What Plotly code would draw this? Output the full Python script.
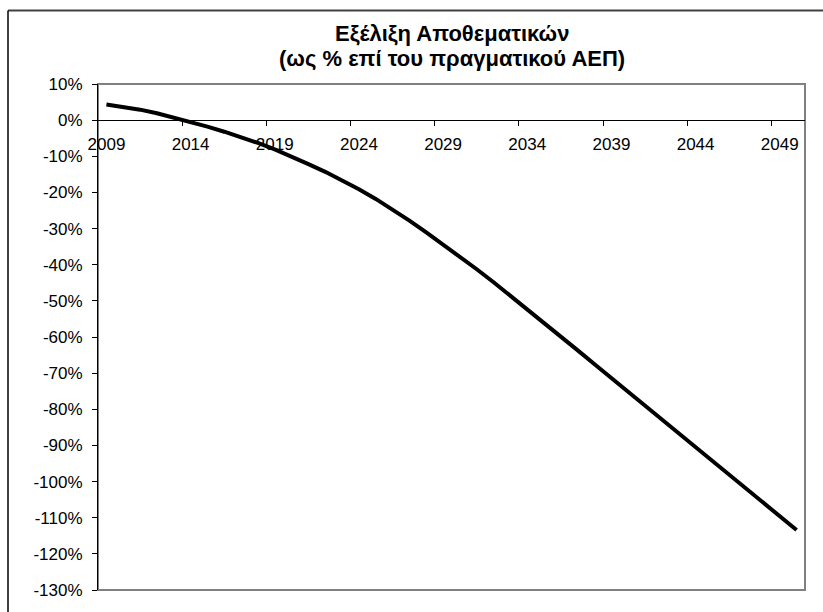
import plotly.graph_objects as go

years = list(range(2009, 2051))
reserves_pct = [
    4.3, 3.65, 2.9, 1.9, 0.75, -0.5, -1.8, -3.2, -4.7, -6.3,
    -8.1, -10.05, -12.15, -14.3, -16.6, -19.1, -21.8, -24.7, -27.8, -31.05,
    -34.35, -37.75, -41.25, -44.85, -48.55, -52.3, -56.1, -59.9, -63.7, -67.55,
    -71.4, -75.2, -79.0, -82.8, -86.65, -90.5, -94.3, -98.1, -101.95, -105.75,
    -109.6, -113.4,
]
x_tick_labels = [str(y) for y in range(2009, 2050, 5)]
x_tick_vals = list(range(2009, 2050, 5))
x_minor_vals = [y - 0.5 for y in range(2014, 2050, 5)]
y_tick_vals = list(range(-130, 11, 10))
y_tick_text = [f"{v}%" for v in y_tick_vals]

title_line1 = "Εξέλιξη Αποθεματικών"
title_line2 = "(ως % επί του πραγματικού ΑΕΠ)"

FONT = "Arial, Liberation Sans, sans-serif"
W, H = 823, 612
L, R, T, B = 98, 18, 84, 19
pw, ph = W - L - R, H - T - B

def px_x(p):
    return (p - L) / pw

def px_y(p):
    return (H - B - p) / ph

fig = go.Figure()
fig.add_trace(go.Scatter(
    x=years, y=reserves_pct, mode="lines",
    line=dict(color="black", width=4),
    showlegend=False, hoverinfo="skip",
))

fig.update_layout(
    width=W, height=H,
    margin=dict(l=L, r=R, t=T, b=B),
    paper_bgcolor="white", plot_bgcolor="white",
    font=dict(family=FONT, size=17, color="black"),
    xaxis=dict(
        range=[2008.5, 2050.5], anchor="free", position=130 / 140,
        showline=True, linecolor="black", linewidth=1,
        tickvals=x_tick_vals, ticktext=x_tick_labels,
        ticks="outside", ticklen=0, tickcolor="black",
        showgrid=False, zeroline=False,
        tickfont=dict(family=FONT, size=17, color="black"),
        minor=dict(tickvals=x_minor_vals, ticks="outside", ticklen=5,
                   tickcolor="black", tickwidth=1, showgrid=False),
        ticklabelstandoff=8,
    ),
    yaxis=dict(
        range=[-130, 10], domain=[0, 1],
        tickvals=y_tick_vals, ticktext=y_tick_text,
        showline=True, linecolor="black", linewidth=1,
        ticks="outside", ticklen=5, tickcolor="black",
        showgrid=False, zeroline=False,
        tickfont=dict(family=FONT, size=17, color="black"),
        ticklabelstandoff=6,
    ),
    shapes=[
        dict(type="rect", xref="paper", yref="paper", x0=0, x1=1, y0=0, y1=1,
             line=dict(color="#808080", width=2), layer="below"),
        dict(type="line", xref="paper", yref="paper",
             x0=px_x(8), x1=px_x(830), y0=px_y(10), y1=px_y(10),
             line=dict(color="#404040", width=2)),
        dict(type="line", xref="paper", yref="paper",
             x0=px_x(8), x1=px_x(8), y0=px_y(10), y1=px_y(620),
             line=dict(color="black", width=1.5)),
    ],
    annotations=[
        dict(text=f"<b>{title_line1}</b>", xref="paper", yref="paper",
             x=0.5, y=px_y(33), xanchor="center", yanchor="middle",
             showarrow=False, font=dict(family=FONT, size=22, color="black")),
        dict(text=f"<b>{title_line2}</b>", xref="paper", yref="paper",
             x=0.5, y=px_y(58), xanchor="center", yanchor="middle",
             showarrow=False, font=dict(family=FONT, size=22, color="black")),
    ],
)

fig.write_html("out.html", config={"displayModeBar": False},
               post_script="document.body.style.margin='0';")
